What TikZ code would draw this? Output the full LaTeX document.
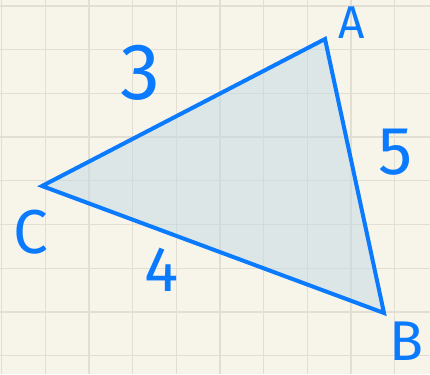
\documentclass[tikz,border=0pt]{standalone}
\usepackage{fontspec}
\setmainfont{Fira Sans}
\usetikzlibrary{positioning}

\definecolor{paper}{HTML}{F7F5EA}
\definecolor{gridline}{HTML}{E2DFD2}
\definecolor{pen}{HTML}{0A7AFF}
\definecolor{shade}{HTML}{C3D9E6}

\begin{document}
\begin{tikzpicture}[x=1pt, y=-1pt,
        sheet/.style={fill=paper, draw=none},
        gridln/.style={draw=gridline, line width=1.3pt},
        area/.style={fill=shade, fill opacity=0.5, draw=none},
        side/.style={draw=pen, line width=4pt, line join=miter},
        hand/.style={text=pen, inner sep=0pt, font=\fontsize{#1}{#1}\selectfont}
    ]

        % ----------------------------------------------------
        % PAPER AND GRID
        % ----------------------------------------------------
        \useasboundingbox (0,0) rectangle (430,374);
        \fill[sheet] (0,0) rectangle (430,374);
        \foreach \i in {0,...,9}
            \draw[gridln] ({1.5+43.7*\i},0) -- ({1.5+43.7*\i},374);
        \foreach \j in {0,...,8}
            \draw[gridln] (0,{6+43.7*\j}) -- (430,{6+43.7*\j});

        % ----------------------------------------------------
        % TRIANGLE
        % ----------------------------------------------------
        \coordinate (ptA) at (325,39);
        \coordinate (ptB) at (384,313);
        \coordinate (ptC) at (42,186);

        \fill[area] (ptA) -- (ptB) -- (ptC) -- cycle;
        \draw[side] (ptA) -- (ptB) -- (ptC) -- cycle;

        % ----------------------------------------------------
        % LABELS
        % ----------------------------------------------------
        % Vertices
        \node[hand=46] (lblA) at (352,23) {A};
        \node[hand=56] (lblB) at (407,341) {B};
        \node[hand=62] (lblC) at (31,232) {C};

        % Side lengths
        \node[hand=80] (lenCA) at (140,73) {3};
        \node[hand=68] (lenAB) at (396,152) {5};
        \node[hand=64] (lenBC) at (162,270) {4};

    \end{tikzpicture}
\end{document}
